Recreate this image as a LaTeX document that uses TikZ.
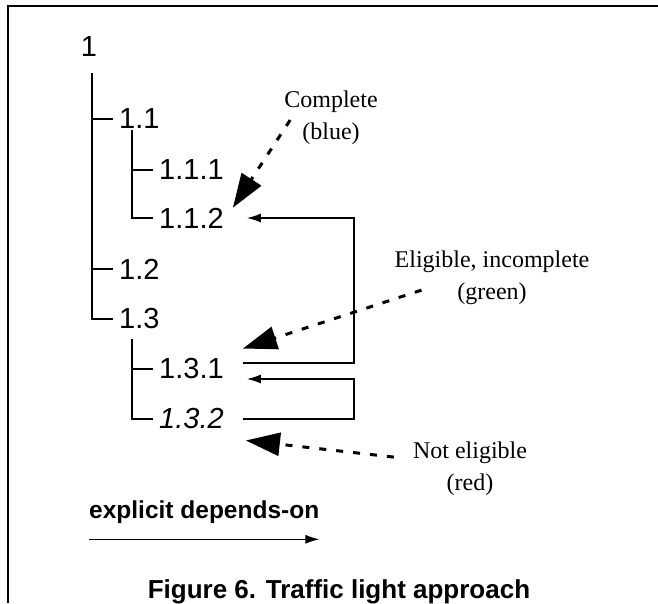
\documentclass[tikz,border=0pt]{standalone}
\usepackage{fontspec}
\setmainfont{Liberation Serif}
\setsansfont{Liberation Sans}
\usepackage{tikz}
\usetikzlibrary{arrows.meta}

\begin{document}
\begin{tikzpicture}[x=1pt, y=-1pt]
    \path[use as bounding box] (0,0) rectangle (658,603);

    \tikzset{ task/.style  ={anchor=west, inner xsep=6pt, inner ysep=0pt, font=\sffamily\fontsize{29}{31}\selectfont} }
    \tikzset{ tag/.style   ={align=center, anchor=north, inner sep=0pt, font=\fontsize{24}{32}\selectfont} }
    \tikzset{ dep/.style   ={line width=1.5pt, -{Latex[length=14pt,width=9pt]}} }
    \tikzset{ light/.style ={line width=3pt, dash pattern=on 7pt off 10pt, -{Triangle[length=34pt,width=23pt]}} }

    % frame, open on the right and at the bottom
    \draw[line width=2.5pt] (658,6) -- (8,6) -- (8,603);

    \node[task, anchor=center, inner xsep=0pt] (n1) at (89,47) {1};
    \node[task] (n11)  at (113,119) {1.1};
    \node[task] (n111) at (153,170) {1.1.1};
    \node[task] (n112) at (153,218) {1.1.2};
    \node[task] (n12)  at (113,269) {1.2};
    \node[task] (n13)  at (113,319) {1.3};
    \node[task] (n131) at (153,369) {1.3.1};
    \node[task] (n132) at (153,419) {\itshape 1.3.2};

    \coordinate (t1)  at (92,73);
    \coordinate (t11) at (132,130);
    \coordinate (t13) at (132,339);

    \foreach \k in {n11,n12,n13}   \draw[line width=1.5pt] (t1)  |- (\k.west);
    \foreach \k in {n111,n112}     \draw[line width=1.5pt] (t11) |- (\k.west);
    \foreach \k in {n131,n132}     \draw[line width=1.5pt] (t13) |- (\k.west);

    % explicit depends-on
    \draw[dep] ([xshift=13pt,yshift=6pt]n131.east) -- ++(111,0) |- ([xshift=17pt]n112.east);
    \draw[dep] ([xshift=13pt]n132.east) -- ++(111,0) |- ([xshift=17pt,yshift=-10pt]n131.east);

    \node[tag] (blue)  at (331,91)  {Complete\\(blue)};
    \node[tag] (green) at (492,251) {Eligible, incomplete\\(green)};
    \node[tag] (red)   at (470,442) {Not eligible\\(red)};

    \draw[light] ([xshift=6pt,yshift=-2pt]blue.west)    -- ([xshift=3pt]n112.north east);
    \draw[light] ([xshift=27pt,yshift=-12pt]green.west) -- ([xshift=13pt,yshift=10pt]n131.north east);
    \draw[light] ([xshift=-19pt,yshift=12pt]red.west)   -- ([xshift=16pt,yshift=-11pt]n132.south east);

    % legend
    \node[anchor=base west, inner sep=0pt, font=\sffamily\bfseries\fontsize{24.5}{27}\selectfont] (key) at (89,518) {explicit depends-on};
    \draw[dep] ([yshift=-16pt]key.south west) -- ([yshift=-16pt]key.south east);

    \node[anchor=base, inner sep=0pt, font=\sffamily\bfseries\fontsize{26}{30}\selectfont] (caption) at (339,598) {Figure 6. Traffic light approach};

\end{tikzpicture}
\end{document}
